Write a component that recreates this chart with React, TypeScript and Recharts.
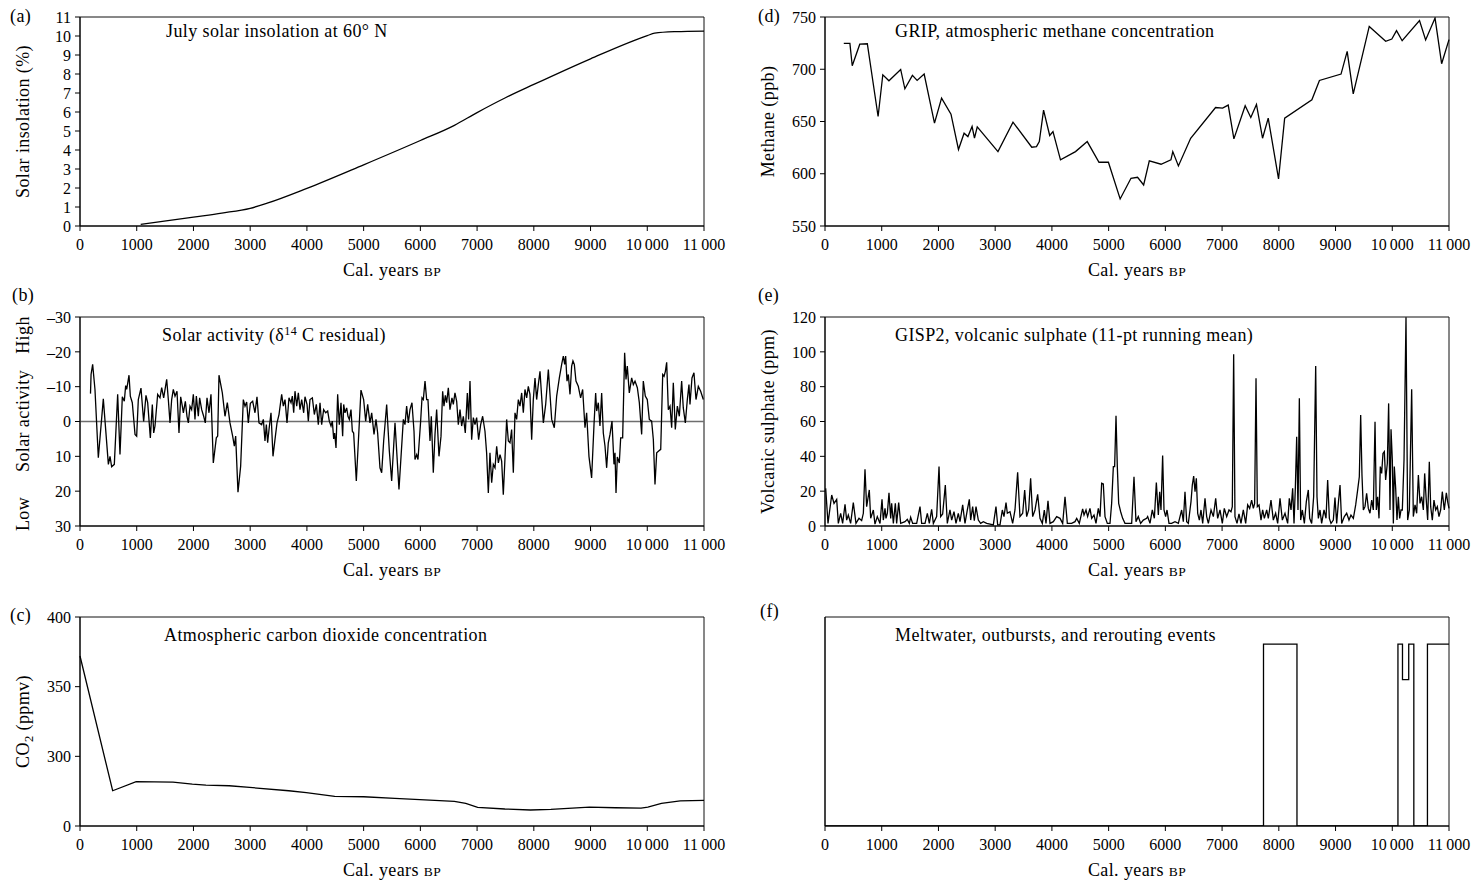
import React from 'react';
import { LineChart, Line, XAxis, YAxis, ReferenceArea, ReferenceLine } from 'recharts';

const FONT = '"Liberation Serif", "Times New Roman", serif';

const yearTicks = [0, 1000, 2000, 3000, 4000, 5000, 6000, 7000, 8000, 9000, 10000, 11000];

// (a) July solar insolation at 60N
const insolationYears = [1070, 2000, 2500, 3000, 3300, 4000, 5000, 6000, 6600, 7000, 7500, 8000, 9000, 10000, 10130, 10500, 11000];
const insolationValues = [0.08, 0.47, 0.68, 0.93, 1.2, 1.98, 3.22, 4.5, 5.3, 5.97, 6.75, 7.45, 8.8, 10.02, 10.15, 10.23, 10.26];
const insolationTicks = [0, 1, 2, 3, 4, 5, 6, 7, 8, 9, 10, 11];

// (b) solar activity, d14C residual
const solarYears = [
  185, 195, 223, 264, 323, 411, 500, 529, 558, 605, 664, 705, 746, 781, 805, 823, 864, 887, 922, 970,
  999, 1028, 1075, 1122, 1163, 1193, 1240, 1275, 1299, 1322, 1369, 1410, 1440, 1475, 1528, 1557, 1587, 1616, 1645, 1675,
  1710, 1745, 1775, 1804, 1822, 1857, 1886, 1910, 1939, 1968, 1998, 2027, 2051, 2086, 2109, 2145, 2180, 2209, 2239, 2274,
  2309, 2350, 2403, 2427, 2450, 2509, 2556, 2597, 2644, 2691, 2721, 2744, 2785, 2832, 2879, 2909, 2938, 2967, 3003, 3044,
  3085, 3120, 3155, 3202, 3232, 3261, 3285, 3308, 3332, 3367, 3402, 3437, 3473, 3508, 3555, 3584, 3614, 3649, 3684, 3720,
  3743, 3767, 3790, 3820, 3849, 3878, 3908, 3943, 3966, 4002, 4025, 4054, 4096, 4131, 4166, 4201, 4231, 4260, 4295, 4331,
  4366, 4395, 4425, 4448, 4472, 4489, 4513, 4542, 4571, 4601, 4630, 4648, 4671, 4701, 4724, 4748, 4777, 4801, 4824, 4871,
  4906, 4953, 5000, 5036, 5071, 5112, 5142, 5183, 5218, 5247, 5288, 5318, 5353, 5406, 5453, 5494, 5553, 5623, 5700, 5729,
  5758, 5788, 5817, 5852, 5888, 5905, 5935, 5958, 6005, 6029, 6052, 6082, 6111, 6134, 6170, 6193, 6228, 6258, 6287, 6328,
  6364, 6393, 6416, 6440, 6463, 6493, 6522, 6557, 6581, 6610, 6640, 6669, 6699, 6728, 6757, 6792, 6828, 6851, 6875, 6904,
  6934, 6963, 6992, 7027, 7063, 7098, 7139, 7168, 7198, 7227, 7257, 7286, 7316, 7345, 7375, 7404, 7433, 7462, 7492, 7521,
  7551, 7580, 7609, 7639, 7668, 7697, 7727, 7756, 7786, 7815, 7844, 7874, 7903, 7932, 7962, 7991, 8021, 8050, 8079, 8109,
  8168, 8209, 8256, 8315, 8361, 8403, 8450, 8491, 8520, 8544, 8561, 8585, 8608, 8638, 8667, 8690, 8714, 8743, 8784, 8825,
  8861, 8902, 8931, 8972, 9019, 9061, 9090, 9108, 9137, 9166, 9196, 9225, 9255, 9284, 9313, 9343, 9378, 9413, 9431, 9449,
  9472, 9507, 9531, 9566, 9601, 9625, 9648, 9683, 9725, 9754, 9784, 9825, 9860, 9901, 9930, 9965, 10000, 10036, 10077, 10107,
  10136, 10166, 10201, 10237, 10272, 10296, 10319, 10342, 10371, 10401, 10430, 10459, 10494, 10530, 10565, 10606, 10635, 10671, 10706, 10735,
  10753, 10788, 10823, 10859, 10900, 10941, 10988,
];
const solarValues = [
  -8, -13.5, -16.4, -9.2, 10.4, -6.5, 12.3, 10, 13, 12.3, -7.8, 9.5, -7.1, -5.8, -10.3, -9.2, -13.3, -7.3, -5.4, 3.7,
  4.2, -6.3, -9.6, 0, -7.5, -5.4, 4.7, -4.9, 3.3, 1.3, -7.8, -6.8, -9.7, -6.8, -12.1, -6.3, 0.4, -6.3, -9.2, -7.3,
  -8.7, 3.3, -7.1, -4.4, -2.5, -5.8, -1.5, 0.4, -4.4, -3.4, -7.8, -0.6, -7.3, -1.5, -6.8, -3.4, -1.5, 0.4, -6.8, -2.5,
  -7.8, 11.9, 4.7, 4.2, -13.3, -8.2, -1.5, -5.4, 0.4, 4.2, 7.1, 4.2, 20.3, 12.8, -6.3, -4.4, -5.6, 0.4, -5.2, -5.8,
  -2.5, -7.1, 0.4, 0.9, -0.6, 5.6, 0.9, 6.1, 2.3, -2.5, 10, 5.2, 0.4, -2, -7.8, -4.4, -6.3, 0.4, -6.8, -5.4,
  -7.3, -2.5, -8.7, -4.4, -8.2, -3.4, -6.3, -2.5, -7.1, -4.9, -0.1, -6.3, -6.8, -2, -4.9, 0.9, -5.4, 0.9, -3.4, -2.5,
  -3, -0.1, 1.3, -0.1, 5, 3.3, 7.6, -7.8, 0.9, -5.4, 4.2, -4.9, -2.5, -3.9, -1.5, -0.6, -3.4, 2.8, 3.3, 17.1,
  6.1, -9, -6.3, -0.1, -4.9, 0.4, -2.5, 3.7, -0.6, 3.3, 13.3, 14.7, 5.6, -4.9, 8.5, 17.1, 0.4, 19.5, -0.6, 0.9,
  -4.4, 0.4, -3.4, -5.4, 2.8, 10.9, 9.5, 10.9, -0.1, -6.8, -6.3, -11.6, -6.3, -6.3, 5.6, -1.5, 14.7, 3.7, -3.4, 10,
  4.2, -8.7, -4.4, -7.5, -5.4, -9.7, -3.4, -6.8, -4.9, -8.2, -5.8, 0.9, -3.4, 1.3, -1.5, 3.3, -8.2, -0.6, -11.6, 5.2,
  -1.1, 0.9, -1.1, 5.2, 0.9, -1.5, 2.8, 9, 20.5, 9, 17.6, 12.3, 13.3, 7.1, 11.9, 9.5, 11.4, 21, 10.4, -0.6,
  5.6, 6.1, 2.3, 14.7, -2.5, -0.6, -6.3, -4.4, -8.2, -2.5, -9.2, -6.8, -10.1, -7.8, 5.2, -6.3, -12.5, -6.3, -10.6, -14.4,
  0.4, -4.9, -14.9, -0.6, 1.8, -7.3, -12.5, -16.4, -18.8, -16.4, -18.8, -11.6, -13.5, -7.8, -15.9, -17.4, -16.4, -11.6, -10.1, -6.8,
  -9.2, 1.8, -2.5, 10, 16.2, 0.9, -8.2, -3, -5.4, 1.3, -8.2, 3.3, 7.1, 13.3, 6.1, 3.7, -0.1, 12.3, 9, 20.5,
  10.2, 11.9, 4.7, 4.7, -19.7, -12.1, -15.9, -8.2, -12.5, -10.6, -11.6, -9.7, -5.4, 3.7, -11.6, -7.3, -6.3, -0.6, -0.1, 5.2,
  18.1, 9, 8.5, 8, -13.5, -13, -14.4, -17, -3.4, -4.4, 1.8, -11.1, 2.3, -4.4, -1.5, -11.6, -3.9, 0.4, -6.3, -10.6,
  -4.9, -12.5, -14, -6.3, -10.1, -8.7, -6.3,
];
const solarTicks = [-30, -20, -10, 0, 10, 20, 30];

// (c) atmospheric CO2 (axis broken: bottom tick is labelled 0)
const co2Years = [0, 576, 990, 1640, 1980, 2220, 2630, 2990, 3680, 3990, 4490, 5000, 5550, 5990, 6600, 6800, 7010, 7490, 7940, 8300, 8980, 9440, 9890, 10010, 10250, 10580, 11000];
const co2Values = [372, 275.3, 281.8, 281.5, 280.1, 279.4, 278.9, 277.7, 275.3, 273.9, 271.3, 271, 269.8, 268.9, 267.7, 266.2, 263.4, 262.2, 261.5, 261.9, 263.6, 263.1, 262.9, 263.6, 266.2, 268.1, 268.4];
const co2Ticks = [250, 300, 350, 400];

// (d) GRIP methane
const methaneYears = [
  331, 439, 480, 613, 746, 936, 1019, 1127, 1334, 1408, 1541, 1624, 1748, 1930, 2055, 2221, 2353, 2452, 2519, 2593,
  2635, 2684, 3049, 3314, 3645, 3728, 3778, 3853, 3961, 4019, 4151, 4416, 4623, 4830, 4996, 5203, 5394, 5510, 5617, 5717,
  5924, 6098, 6131, 6230, 6446, 6885, 7009, 7108, 7208, 7407, 7506, 7606, 7713, 7813, 7995, 8103, 8583, 8716, 9097, 9205,
  9312, 9594, 9884, 9992, 10075, 10174, 10480, 10588, 10754, 10870, 11000,
];
const methaneValues = [
  724.8, 724.8, 703.4, 724, 724.4, 654.8, 694.7, 689, 699.8, 681.3, 694.1, 689.3, 695.4, 648.4, 672.4, 657, 623.2, 638.8, 635.6, 645.2,
  634.2, 644.9, 621.2, 649.4, 625.4, 626, 630.8, 660.9, 636.6, 640.4, 613.3, 621.2, 630.8, 611, 611, 575.9, 595.7, 596.6, 589.3, 612.3,
  609.1, 613.3, 621.2, 607.5, 634, 663.4, 662.8, 665.7, 633.4, 665, 653.8, 666.3, 634, 653.2, 595, 653.2, 670.8, 689.3, 695.4, 717.1,
  676.5, 741, 726.7, 728.9, 736.9, 727.3, 746.5, 728, 749, 705.3, 728.3,
];
const methaneTicks = [550, 600, 650, 700, 750];

// (e) GISP2 volcanic sulphate
const sulphateYears = [
  12, 53, 118, 159, 206, 235, 276, 311, 353, 382, 411, 452, 499, 546, 599, 646, 676, 705, 734, 781,
  805, 852, 881, 922, 970, 1005, 1028, 1058, 1075, 1099, 1128, 1158, 1175, 1205, 1240, 1263, 1299, 1334, 1410, 1451,
  1487, 1510, 1545, 1616, 1675, 1704, 1763, 1804, 1839, 1880, 1910, 1968, 2010, 2039, 2074, 2121, 2156, 2203, 2233, 2274,
  2309, 2350, 2380, 2427, 2468, 2509, 2544, 2568, 2603, 2632, 2662, 2703, 2744, 2791, 2850, 2909, 2967, 3014, 3044, 3085,
  3126, 3155, 3191, 3214, 3261, 3308, 3349, 3396, 3437, 3485, 3520, 3555, 3590, 3625, 3661, 3702, 3749, 3790, 3831, 3866,
  3896, 3931, 3966, 4025, 4084, 4143, 4190, 4231, 4272, 4348, 4407, 4437, 4483, 4542, 4566, 4601, 4630, 4671, 4701, 4742,
  4777, 4818, 4848, 4877, 4906, 4936, 4977, 5024, 5053, 5083, 5106, 5130, 5153, 5177, 5212, 5247, 5288, 5347, 5406, 5447,
  5482, 5523, 5564, 5611, 5670, 5688, 5729, 5770, 5806, 5841, 5876, 5900, 5923, 5952, 5976, 6005, 6029, 6064, 6111, 6170,
  6229, 6287, 6317, 6346, 6376, 6405, 6452, 6475, 6499, 6523, 6546, 6570, 6599, 6628, 6658, 6699, 6728, 6758, 6805, 6846,
  6887, 6922, 6963, 7004, 7039, 7081, 7122, 7157, 7180, 7204, 7227, 7263, 7298, 7333, 7374, 7416, 7451, 7486, 7521, 7551,
  7574, 7598, 7621, 7651, 7686, 7715, 7745, 7786, 7815, 7862, 7903, 7944, 7980, 8021, 8062, 8109, 8156, 8185, 8215, 8244,
  8268, 8291, 8315, 8338, 8362, 8385, 8415, 8450, 8485, 8520, 8544, 8579, 8614, 8650, 8673, 8697, 8726, 8755, 8797, 8832,
  8861, 8891, 8920, 8961, 8990, 9020, 9049, 9079, 9108, 9155, 9196, 9237, 9272, 9314, 9355, 9390, 9419, 9443, 9466, 9490,
  9519, 9548, 9578, 9607, 9637, 9666, 9696, 9719, 9742, 9766, 9789, 9813, 9836, 9860, 9883, 9913, 9936, 9960, 9978, 10001,
  10019, 10036, 10060, 10083, 10107, 10130, 10154, 10177, 10207, 10242, 10271, 10301, 10342, 10371, 10401, 10430, 10460, 10489, 10518, 10548,
  10571, 10595, 10624, 10653, 10677, 10706, 10735, 10765, 10794, 10823, 10853, 10882, 10917, 10953, 10976, 11000,
];
const sulphateValues = [
  21.6, 1.5, 17.8, 13, 15.3, 1.5, 7.3, 1.5, 12.4, 3.4, 6.3, 1.5, 13.4, 1.5, 4.4, 3.1, 7.3, 32.5, 11.1, 20.7,
  4.4, 9.2, 1.1, 5.4, 1.5, 15.3, 3.4, 10.1, 4.4, 7.3, 19.1, 4.4, 13, 1.5, 13, 1.5, 13.4, 1.5, 2.5, 3.8,
  1.5, 5, 1.5, 1.5, 11.1, 1.5, 1.5, 7.3, 1.5, 9.6, 1.5, 5.4, 34.1, 5.4, 6.9, 23.5, 1.5, 9.2, 3.4, 8.2,
  1.5, 7.3, 2.5, 12.1, 1.5, 9.2, 15.3, 3.4, 11.1, 3.1, 11.1, 3.4, 1.5, 2.5, 1.5, 1.1, 0.6, 11.1, 0.6, 0.6,
  9.2, 5.4, 13.4, 7.3, 8.2, 1.5, 9.2, 30.8, 5.4, 7.3, 20.7, 5.4, 9.2, 27.4, 5.4, 9.2, 18.2, 4.4, 1.5, 9.2,
  1.5, 14.5, 1.5, 2.5, 5.4, 4.4, 1.5, 16.8, 1.5, 1.5, 2.5, 4.4, 1.5, 9.8, 6.3, 9.2, 5.4, 10.1, 4.4, 6.3,
  1.5, 10.1, 5.4, 24.5, 24.1, 5.4, 1.5, 1.5, 13, 34.1, 34.1, 63.3, 34.1, 13, 8.2, 4.4, 1.5, 1.5, 1.5, 28.3,
  2.5, 5.4, 1.5, 3.4, 4.4, 5.4, 1.5, 9.2, 4.4, 24.9, 6.3, 19.7, 9.2, 40.4, 9.2, 5.4, 9.2, 1.5, 1.5, 2.5,
  1.5, 9.2, 2.5, 19.7, 2.5, 1.5, 14, 23.5, 28.7, 19.7, 27.4, 7.3, 3.4, 9.2, 1.5, 15.9, 5.4, 1.5, 9.2, 5.4,
  15.9, 4.4, 9.2, 1.5, 10.1, 5.4, 9.2, 8.2, 11.1, 98.6, 5.4, 1.5, 6.9, 1.5, 9.2, 1.5, 12.1, 10.1, 14.9, 10.1,
  13, 84.8, 11.1, 12.1, 3.4, 9.2, 4.4, 9.2, 4.4, 14.9, 3.4, 7.3, 1.5, 15.9, 3.4, 7.3, 1.5, 15.9, 9.2, 21.6,
  1.5, 21.6, 51.3, 9.2, 73.3, 3.4, 9.2, 1.5, 14, 20.7, 4.4, 1.5, 16.8, 91.9, 16.8, 4.4, 9.2, 1.5, 9.2, 4.4,
  26.4, 4.4, 1.5, 3.4, 16.3, 1.5, 13, 23.5, 1.5, 5.4, 7.3, 3.4, 6.3, 4.4, 12.1, 20.7, 28.3, 63.7, 29.3, 9.2,
  11.1, 18.8, 10.1, 7.3, 14.9, 9.2, 59.9, 9.2, 16.8, 4.4, 34.1, 30.2, 41.7, 42.7, 26.4, 36, 70.4, 9.2, 55.5, 37.9,
  1.5, 34.1, 21.6, 3.4, 16.8, 4.4, 9.2, 9.2, 37.9, 119.8, 3.4, 9.2, 78.5, 5.4, 12.1, 7.3, 29.3, 13, 16.8, 9.2,
  30.2, 16.8, 3.4, 36.9, 11.1, 3.4, 14.9, 9.2, 11.1, 5.4, 9.2, 19.7, 9.2, 19.1, 14, 10.1,
];
const sulphateTicks = [0, 20, 40, 60, 80, 100, 120];

// (f) meltwater / outburst / rerouting events (step levels)
const meltYears = [0, 7730, 8320, 10100, 10180, 10290, 10380, 10620, 11000];
const meltValues = [0, 0.87, 0, 0.87, 0.7, 0.87, 0, 0.87, 0.87];

const zip = (xs: number[], ys: number[]) => xs.map((x, i) => ({ x, y: ys[i] }));

const COL_X = [0, 745];
const ROW_Y = [0, 300, 600];

const fmtYear = (v: number) => (v >= 10000 ? `${Math.floor(v / 1000)}\u2009000` : String(v));
const fmtSigned = (v: number) => (v < 0 ? `\u2013${-v}` : String(v));
const fmtCo2 = (v: number) => (v === 250 ? '0' : String(v));

const tickStyle = { fill: '#000', fontSize: 16, fontFamily: FONT };
const axisStyle = { stroke: '#000', strokeWidth: 1 };

interface PanelProps {
  col: number;
  row: number;
  data: { x: number; y: number }[];
  domain: [number, number];
  ticks?: number[];
  yFormat?: (v: number) => string;
  reversed?: boolean;
  noYTicks?: boolean;
  zeroLine?: boolean;
  curve?: 'linear' | 'monotone' | 'stepAfter';
}

function Panel({ col, row, data, domain, ticks, yFormat, reversed, noYTicks, zeroLine, curve = 'linear' }: PanelProps) {
  return (
    <div style={{ position: 'absolute', left: COL_X[col], top: ROW_Y[row] }}>
      <LineChart width={744} height={290} data={data} margin={{ top: 17, right: 40, bottom: 34, left: 30 }}>
        <XAxis
          dataKey="x"
          type="number"
          domain={[0, 11000]}
          ticks={yearTicks}
          interval={0}
          tickFormatter={fmtYear}
          height={30}
          tickSize={5}
          tickMargin={8}
          tick={tickStyle}
          axisLine={axisStyle}
          tickLine={axisStyle}
        />
        <YAxis
          type="number"
          domain={domain}
          ticks={ticks}
          interval={0}
          reversed={reversed}
          allowDataOverflow
          tickFormatter={yFormat}
          width={50}
          tickSize={5}
          tickMargin={4}
          tick={noYTicks ? false : tickStyle}
          tickLine={noYTicks ? false : axisStyle}
          axisLine={axisStyle}
        />
        <ReferenceArea x1={0} x2={11000} y1={domain[0]} y2={domain[1]} fill="none" stroke="#111" strokeWidth={1} />
        {zeroLine && <ReferenceLine y={0} stroke="#6e6e6e" strokeWidth={1.6} />}
        <Line
          dataKey="y"
          type={curve}
          stroke="#000"
          strokeWidth={1.3}
          dot={false}
          activeDot={false}
          isAnimationActive={false}
        />
      </LineChart>
    </div>
  );
}

const labelFont = { fontFamily: FONT, fontSize: 18, letterSpacing: 0.4, fill: '#000' };

function RotLabel({ x, y, children }: { x: number; y: number; children: React.ReactNode }) {
  return (
    <text transform={`translate(${x},${y}) rotate(-90)`} textAnchor="middle" style={labelFont}>
      {children}
    </text>
  );
}

function XLabel({ col, row }: { col: number; row: number }) {
  return (
    <text x={COL_X[col] + 392} y={ROW_Y[row] + 276} textAnchor="middle" style={labelFont}>
      Cal. years <tspan fontSize={13.5}>BP</tspan>
    </text>
  );
}

export default function App() {
  return (
    <div style={{ position: 'relative', width: 1481, height: 882, overflow: 'hidden', background: '#fff' }}>
      <style>{'body{margin:0;}'}</style>
      <Panel col={0} row={0} data={zip(insolationYears, insolationValues)} domain={[0, 11]} ticks={insolationTicks} curve="monotone" />
      <Panel col={0} row={1} data={zip(solarYears, solarValues)} domain={[-30, 30]} ticks={solarTicks} yFormat={fmtSigned} reversed zeroLine />
      <Panel col={0} row={2} data={zip(co2Years, co2Values)} domain={[250, 400]} ticks={co2Ticks} yFormat={fmtCo2} />
      <Panel col={1} row={0} data={zip(methaneYears, methaneValues)} domain={[550, 750]} ticks={methaneTicks} />
      <Panel col={1} row={1} data={zip(sulphateYears, sulphateValues)} domain={[0, 120]} ticks={sulphateTicks} />
      <Panel col={1} row={2} data={zip(meltYears, meltValues)} domain={[0, 1]} noYTicks curve="stepAfter" />

      <svg width={1481} height={882} style={{ position: 'absolute', left: 0, top: 0, pointerEvents: 'none' }}>
        {/* panel letters */}
        <text x={10} y={22} style={labelFont}>(a)</text>
        <text x={12} y={301} style={labelFont}>(b)</text>
        <text x={10} y={621} style={labelFont}>(c)</text>
        <text x={758} y={22} style={labelFont}>(d)</text>
        <text x={758} y={301} style={labelFont}>(e)</text>
        <text x={760} y={617} style={labelFont}>(f)</text>

        {/* titles inside the plots */}
        <text x={166} y={37} style={labelFont}>July solar insolation at 60° N</text>
        <text x={162} y={341} style={labelFont}>
          Solar activity (δ<tspan dy={-6} fontSize={12}>14</tspan><tspan dy={6}> C residual)</tspan>
        </text>
        <text x={164} y={641} style={labelFont}>Atmospheric carbon dioxide concentration</text>
        <text x={895} y={37} style={labelFont}>GRIP, atmospheric methane concentration</text>
        <text x={895} y={341} style={labelFont}>GISP2, volcanic sulphate (11-pt running mean)</text>
        <text x={895} y={641} style={labelFont}>Meltwater, outbursts, and rerouting events</text>

        {/* y axis labels */}
        <RotLabel x={29} y={121.5}>Solar insolation (%)</RotLabel>
        <RotLabel x={29} y={335}>High</RotLabel>
        <RotLabel x={29} y={421}>Solar activity</RotLabel>
        <RotLabel x={29} y={514}>Low</RotLabel>
        <RotLabel x={29} y={721.5}>
          CO<tspan dy={4} fontSize={12.5}>2</tspan><tspan dy={-4}> (ppmv)</tspan>
        </RotLabel>
        <RotLabel x={774} y={121.5}>Methane (ppb)</RotLabel>
        <RotLabel x={774} y={421.5}>Volcanic sulphate (ppm)</RotLabel>

        {/* x axis labels */}
        <XLabel col={0} row={0} />
        <XLabel col={0} row={1} />
        <XLabel col={0} row={2} />
        <XLabel col={1} row={0} />
        <XLabel col={1} row={1} />
        <XLabel col={1} row={2} />
      </svg>
    </div>
  );
}
